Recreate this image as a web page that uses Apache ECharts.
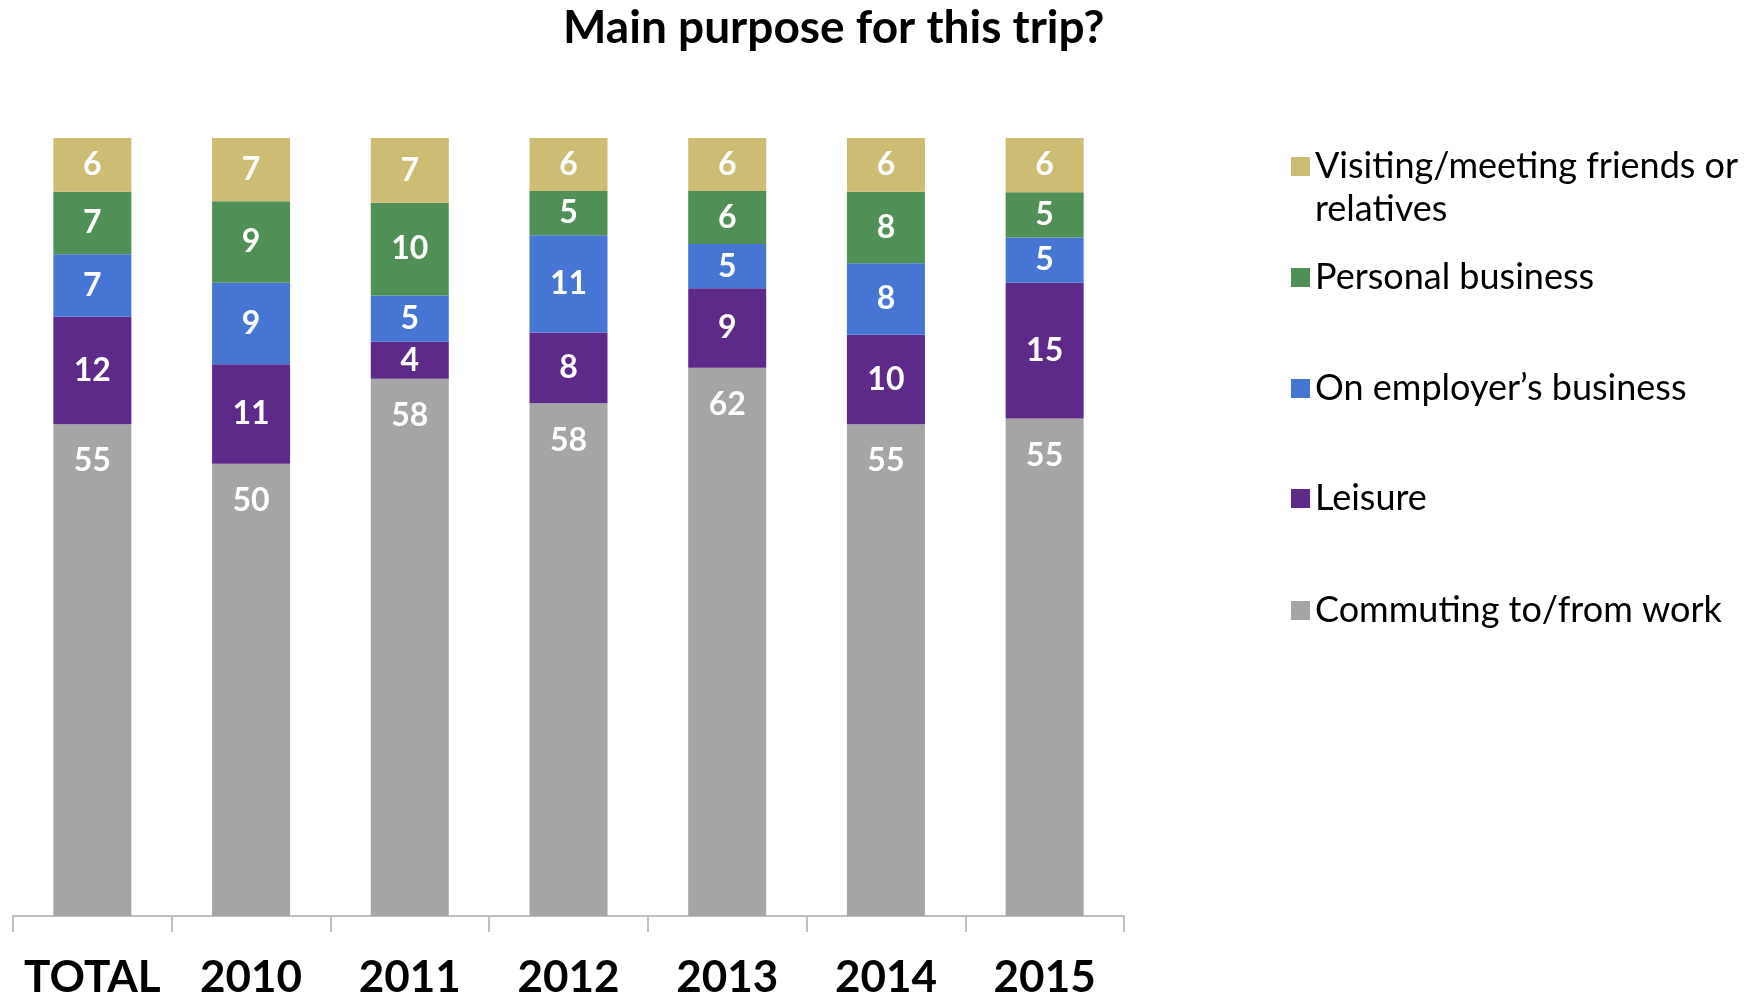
<!DOCTYPE html>
<html>
<head>
<meta charset="utf-8">
<style>
  html, body { margin: 0; padding: 0; background: #fff; }
  #chart { width: 1764px; height: 995px; }
</style>
<script src="https://cdn.jsdelivr.net/npm/echarts@6/dist/echarts.min.js"></script>
</head>
<body>
<div id="chart"></div>
<script>
// categories and raw percentages
var categories = ['TOTAL', '2010', '2011', '2012', '2013', '2014', '2015'];
var commuting = [55, 50, 58, 58, 62, 55, 55];
var leisure = [12, 11, 4, 8, 9, 10, 15];
var employer = [7, 9, 5, 11, 5, 8, 5];
var personal = [7, 9, 10, 5, 6, 8, 5];
var visiting = [6, 7, 7, 6, 6, 6, 6];

var seriesNames = ['Commuting to/from work', 'Leisure', 'On employer’s business', 'Personal business', 'Visiting/meeting friends or relatives'];
var seriesValues = [commuting, leisure, employer, personal, visiting];
var colors = ['#a5a5a5', '#5e2a8a', '#4675d4', '#508f56', '#cdbc73'];

// the bars are drawn as 100% stacks, labels show the raw values
var totals = categories.map(function (c, i) {
    return seriesValues.reduce(function (s, arr) { return s + arr[i]; }, 0);
});

var font = 'Lato';
var myChart = echarts.init(document.getElementById('chart'));

var series = seriesValues.map(function (vals, k) {
    return {
        name: seriesNames[k],
        type: 'bar',
        stack: 'all',
        barWidth: 78,
        itemStyle: { color: colors[k] },
        label: {
            show: true,
            position: k === 0 ? 'insideTop' : 'inside',
            distance: 21,
            color: '#fff',
            fontFamily: font,
            fontWeight: 'bold',
            fontSize: 32,
            formatter: function (p) { return vals[p.dataIndex]; }
        },
        data: vals.map(function (v, i) { return v / totals[i] * 100; })
    };
});

// legend listed top to bottom, one block per item
var legendOrder = [4, 3, 2, 1, 0];
var legendTops = [102, 256, 367, 477, 589];
var legends = legendOrder.map(function (k, j) {
    return {
        data: [seriesNames[k]],
        left: 1291,
        top: legendTops[j],
        padding: 0,
        icon: 'rect',
        itemWidth: 19,
        itemHeight: 19,
        selectedMode: false,
        textStyle: { fontFamily: font, fontSize: 36, color: '#000', lineHeight: 43 },
        formatter: function (name) {
            if (name === seriesNames[4]) {
                return '\nVisiting/meeting friends or\nrelatives';
            }
            return name;
        }
    };
});

var option = {
    animation: false,
    title: {
        text: 'Main purpose for this trip?',
        left: 558,
        top: 0,
        textStyle: { fontFamily: font, fontSize: 46, fontWeight: 'bold', color: '#000' }
    },
    legend: legends,
    grid: { left: 13, right: 640, top: 138, bottom: 79, outerBoundsMode: 'none' },
    xAxis: {
        type: 'category',
        data: categories,
        axisLine: { lineStyle: { color: '#bfbfbf', width: 2 } },
        axisTick: { show: true, interval: 0, length: 16, lineStyle: { color: '#bfbfbf', width: 2 } },
        axisLabel: {
            interval: 0,
            margin: 40,
            color: '#000',
            fontFamily: font,
            fontWeight: 'bold',
            fontSize: 44
        }
    },
    yAxis: {
        type: 'value',
        min: 0,
        max: 100,
        show: false
    },
    series: series
};

myChart.setOption(option);
window.addEventListener('resize', function () {
    myChart.resize();
});
</script>
</body>
</html>
